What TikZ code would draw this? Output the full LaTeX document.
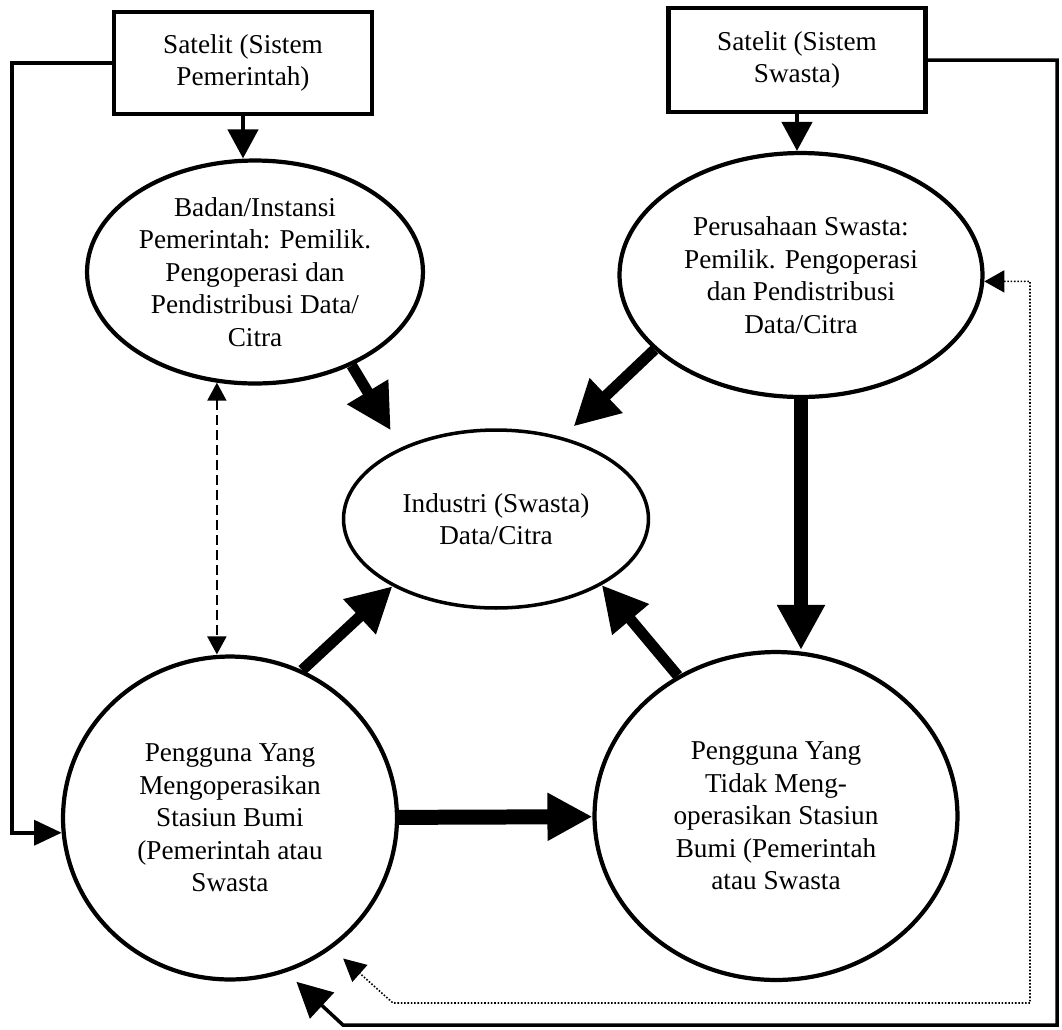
\documentclass[tikz,border=0pt]{standalone}
\usepackage{fontspec}
\setmainfont{Liberation Serif}
\usetikzlibrary{arrows.meta,shapes.geometric}

\begin{document}
\begin{tikzpicture}[x=0.02cm, y=-0.02cm,
  every node/.style={font=\fontsize{15.5}{18.5}\selectfont, align=center},
  satbox/.style={draw, line width=2.6pt, minimum width=5.16cm, minimum height=2.04cm, inner sep=0pt},
  oval/.style={ellipse, draw, line width=2.4pt, inner sep=0pt},
  fat/.style={line width=0.22cm, -{Triangle[length=0.9cm, width=0.9cm]}},
  slim/.style={line width=0.09cm, -{Triangle[length=0.58cm, width=0.6cm]}},
  feedline/.style={line width=2pt}]
    \useasboundingbox (0,0) rectangle (1062,1029);

    \node[satbox] (satgov) at (243,63) {Satelit (Sistem\\Pemerintah)};
    \node[satbox, minimum width=5.14cm, minimum height=2.08cm] (satpriv) at (797,60) {Satelit (Sistem\\Swasta)};

    \node[oval, minimum width=6.72cm, minimum height=4.46cm] (govagency) at (255,272) {Badan/Instansi\\Pemerintah: Pemilik.\\Pengoperasi dan\\Pendistribusi Data/\\Citra};
    \node[oval, minimum width=7.26cm, minimum height=4.88cm] (company) at (801,275) {Perusahaan Swasta:\\Pemilik. Pengoperasi\\dan Pendistribusi\\Data/Citra};
    \node[oval, line width=2pt, minimum width=6.1cm, minimum height=3.56cm] (industry) at (496,519) {Industri (Swasta)\\Data/Citra};
    \node[oval, minimum width=6.68cm, minimum height=6.46cm] (userop) at (230,818) {Pengguna Yang\\Mengoperasikan\\Stasiun Bumi\\(Pemerintah atau\\Swasta};
    \node[oval, minimum width=7.26cm, minimum height=6.56cm] (usernon) at (776,816) {Pengguna Yang\\Tidak Meng-\\operasikan Stasiun\\Bumi (Pemerintah\\atau Swasta};

    \draw[slim] (satgov.south) -- (satgov.south |- govagency.north);
    \draw[slim] (satpriv.south) -- (satpriv.south |- company.north);

    \draw[fat, shorten >=0.4cm] (govagency.-44) -- (industry.143);
    \draw[fat, shorten >=0.31cm] (company.207) -- (industry.51);
    \draw[fat, line width=0.27cm] (company.south) -- (company.south |- usernon.north);
    \draw[fat] (userop.64) -- (industry.213);
    \draw[fat] (usernon.125) -- (industry.-32);
    \draw[fat, line width=0.3cm] (userop) -- (usernon);

    \draw[line width=1.1pt, dash pattern=on 0.2cm off 0.1cm, {Triangle[length=0.36cm, width=0.38cm]}-{Triangle[length=0.36cm, width=0.38cm]}] (govagency.-109) -- (govagency.-109 |- userop.north);

    % lines round the outside
    \coordinate (leftcorner) at (12,63);
    \coordinate (rightcorner) at (1057,60);
    \coordinate (bottomcorner) at (343,1025);
    \coordinate (dotcorner) at (1030,1003);
    \coordinate (dotbend) at (393,1003);
    \draw[feedline, -{Triangle[length=0.55cm, width=0.5cm]}] (satgov.west) -- (leftcorner) |- (userop.185);
    \draw[feedline, -{Triangle[length=0.7cm, width=0.7cm]}, shorten >=0.28cm] (satpriv.east) -- (rightcorner) |- (bottomcorner) -- (userop.-70);
    \draw[line width=0.9pt, densely dotted, {Triangle[length=0.4cm, width=0.44cm]}-{Triangle[length=0.45cm, width=0.45cm]}, shorten >=0.3cm] (company.-2) -- (company.-2 -| dotcorner) |- (dotbend) -- (userop.-52);
\end{tikzpicture}
\end{document}
